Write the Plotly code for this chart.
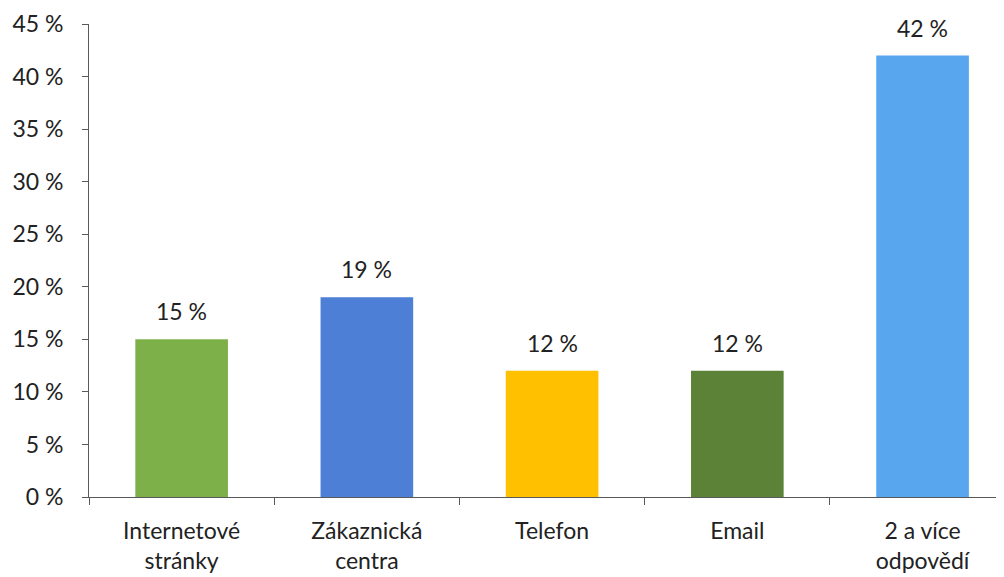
import plotly.graph_objects as go

kategorie = ["Internetové<br>stránky", "Zákaznická<br>centra", "Telefon", "Email", "2 a více<br>odpovědí"]
hodnoty = [15, 19, 12, 12, 42]
barvy = ["#7EB04A", "#4E7FD6", "#FFC000", "#5B8236", "#58A6EE"]
popisky = [f"{v} %" for v in hodnoty]

fig = go.Figure()
fig.add_trace(go.Bar(
    x=kategorie,
    y=hodnoty,
    marker=dict(color=barvy, line=dict(width=0)),
    cliponaxis=False,
))

# popisky hodnot nad sloupci
for k, v, t in zip(kategorie, hodnoty, popisky):
    fig.add_annotation(
        x=k, y=v, text=t,
        showarrow=False,
        yanchor="bottom",
        yshift=12,
        font=dict(size=23, color="#222222"),
    )

fig.update_layout(
    width=1004,
    height=577,
    paper_bgcolor="white",
    plot_bgcolor="white",
    font=dict(family="Lato", size=23, color="#222222"),
    margin=dict(l=81, r=7, t=16, b=88, autoexpand=False),
    bargap=0.5,
    showlegend=False,
    xaxis=dict(
        range=[-0.5, 4.445],
        automargin=False,
        showline=True,
        linecolor="#595959",
        linewidth=1,
        ticks="outside",
        tickson="boundaries",
        ticklen=7,
        tickcolor="#595959",
        ticklabelstandoff=13,
        showgrid=False,
    ),
    yaxis=dict(
        range=[0, 45],
        automargin=False,
        dtick=5,
        ticksuffix=" %",
        showline=True,
        linecolor="#595959",
        linewidth=1,
        ticks="outside",
        ticklen=6,
        tickcolor="#595959",
        ticklabelstandoff=14,
        showgrid=False,
        zeroline=False,
    ),
)

fig.write_html("out.html")
